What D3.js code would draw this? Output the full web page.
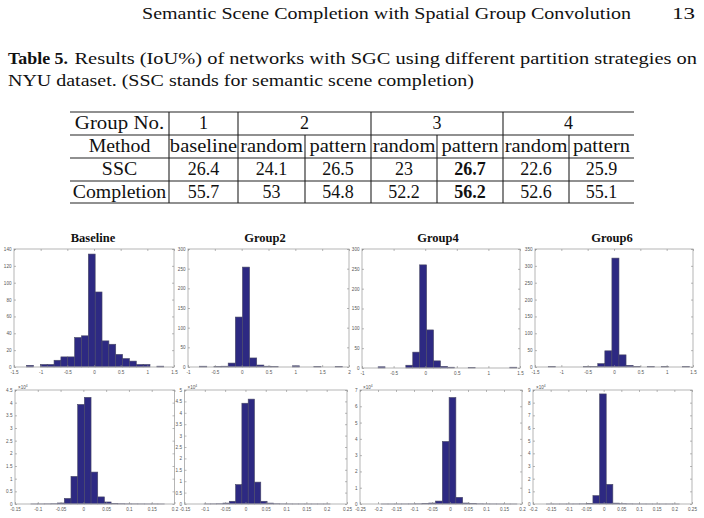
<!DOCTYPE html>
<html lang="en">
<head>
<meta charset="utf-8">
<title>SGC partition results and weight histograms</title>
<script src="https://cdn.jsdelivr.net/npm/d3@7"></script>
<style>
  body { margin: 0; background: #fff; }
  svg { display: block; }
</style>
</head>
<body>
<script>
// ---- page text ----
var headerTitle = "Semantic Scene Completion with Spatial Group Convolution";
var pageNumber = "13";
var captionLabel = "Table 5.";
var captionLine1 = "Results (IoU%) of networks with SGC using different partition strategies on";
var captionLine2 = "NYU dataset. (SSC stands for semantic scene completion)";

// ---- table data ----
var rowLabels = ["Group No.", "Method", "SSC", "Completion"];
var groupNumbers = ["1", "2", "3", "4"];
var groupSpans = [1, 2, 2, 2];
var methods = ["baseline", "random", "pattern", "random", "pattern", "random", "pattern"];
var sscValues = ["26.4", "24.1", "26.5", "23", "26.7", "22.6", "25.9"];
var completionValues = ["55.7", "53", "54.8", "52.2", "56.2", "52.6", "55.1"];
var bestColumn = 4;

// ---- histogram data (20 bins each, bottom row in units of 10^4) ----
var histTitles = ["Baseline", "Group2", "Group4", "Group6", "", "", "", ""];
var histExponent = [null, null, null, null, 4, 4, 4, 4];

var baselineCounts = [2, 0, 3, 3, 8, 12, 12, 35, 37, 134, 89, 31, 27, 15, 10, 7, 3, 3, 0, 1];
var group2Counts = [2, 0, 1, 2, 10, 127, 254, 23, 5, 2, 1, 0, 0, 3, 0, 0, 1, 0, 0, 1];
var group4Counts = [3, 0, 0, 0, 7, 40, 260, 96, 18, 4, 2, 0, 0, 1, 0, 0, 0, 0, 0, 2];
var group6Counts = [1, 0, 0, 0, 0, 1, 1, 10, 48, 323, 36, 5, 2, 0, 1, 0, 1, 0, 0, 1];
var baselineBCounts = [0.002, 0.003, 0.005, 0.01, 0.04, 0.22, 1.09, 3.93, 4.21, 1.26, 0.28, 0.08, 0.02, 0.01, 0.005, 0.004, 0.003, 0.002, 0.002, 0.001];
var group2BCounts = [0.003, 0.005, 0.01, 0.04, 0.12, 0.85, 4.42, 4.6, 0.96, 0.12, 0.04, 0.01, 0.005, 0.003, 0.002, 0.002, 0.001, 0.001, 0.001, 0.001];
var group4BCounts = [0.001, 0.001, 0.002, 0.003, 0.005, 0.01, 0.03, 0.06, 0.18, 3.84, 6.54, 0.41, 0.06, 0.02, 0.01, 0.005, 0.003, 0.002, 0.001, 0.001];
var group6BCounts = [0.001, 0.001, 0.002, 0.003, 0.005, 0.01, 0.05, 0.66, 8.69, 1.55, 0.07, 0.02, 0.01, 0.005, 0.003, 0.002, 0.001, 0.001, 0.001, 0.001];

var histCounts = [baselineCounts, group2Counts, group4Counts, group6Counts,
                  baselineBCounts, group2BCounts, group4BCounts, group6BCounts];
// data range covered by the bins (min, max of the weights)
var histRanges = [[-1.263, 1.307], [-0.783, 1.876], [-0.745, 1.448], [-1.248, 1.437],
                  [-0.1152, 0.1783], [-0.1018, 0.2084], [-0.191, 0.186], [-0.162, 0.214]];

var histXTicks = [
  [-1.5, -1, -0.5, 0, 0.5, 1, 1.5],
  [-1, -0.5, 0, 0.5, 1, 1.5, 2],
  [-1, -0.5, 0, 0.5, 1, 1.5],
  [-1.5, -1, -0.5, 0, 0.5, 1, 1.5],
  [-0.15, -0.1, -0.05, 0, 0.05, 0.1, 0.15, 0.2],
  [-0.15, -0.1, -0.05, 0, 0.05, 0.1, 0.15, 0.2, 0.25],
  [-0.25, -0.2, -0.15, -0.1, -0.05, 0, 0.05, 0.1, 0.15, 0.2],
  [-0.2, -0.15, -0.1, -0.05, 0, 0.05, 0.1, 0.15, 0.2, 0.25]
];
var histYTicks = [
  [0, 20, 40, 60, 80, 100, 120, 140],
  [0, 50, 100, 150, 200, 250, 300],
  [0, 50, 100, 150, 200, 250, 300],
  [0, 50, 100, 150, 200, 250, 300, 350],
  [0, 0.5, 1, 1.5, 2, 2.5, 3, 3.5, 4, 4.5],
  [0, 0.5, 1, 1.5, 2, 2.5, 3, 3.5, 4, 4.5, 5],
  [0, 1, 2, 3, 4, 5, 6, 7],
  [0, 1, 2, 3, 4, 5, 6, 7, 8, 9]
];

// ---- layout ----
var W = 704, H = 518;
var colEdges = [70, 169, 238, 305, 371, 437, 503, 569, 634];
var rowEdges = [112, 135, 158, 181, 203];
var rowBaselines = [129, 152, 175, 197.5];

var panelBoxes = [
  {x0: 14, x1: 174, y0: 249, y1: 367, tx: 93},
  {x0: 188, x1: 349, y0: 249, y1: 367, tx: 265},
  {x0: 362, x1: 520, y0: 249, y1: 368, tx: 438},
  {x0: 535, x1: 693, y0: 249, y1: 367, tx: 612},
  {x0: 15, x1: 174.5, y0: 390, y1: 504},
  {x0: 184.5, x1: 347, y0: 390, y1: 504},
  {x0: 360, x1: 522, y0: 390, y1: 504},
  {x0: 533, x1: 692, y0: 390, y1: 504}
];

var serif = "'Liberation Serif', 'Times New Roman', serif";
var sans = "'Liberation Sans', Arial, sans-serif";
var barFill = "#2d2982";
var barEdge = "#4a4a66";
var boxColor = "#b5b5b5";
var tickFont = 4.6;

var svg = d3.select("body").append("svg")
    .attr("width", W)
    .attr("height", H);

svg.append("rect").attr("width", W).attr("height", H).attr("fill", "#fff");

// stretch text horizontally (Computer Modern is wider than Times)
function stretch(sel, factor) {
  sel.each(function() {
    var len = this.getComputedTextLength();
    d3.select(this).attr("textLength", len * factor).attr("lengthAdjust", "spacingAndGlyphs");
  });
}

function fitText(x, y, str, width, size, weight) {
  return svg.append("text")
    .attr("x", x).attr("y", y)
    .attr("font-family", serif)
    .attr("font-size", size)
    .attr("font-weight", weight || "normal")
    .attr("fill", "#111")
    .attr("textLength", width)
    .attr("lengthAdjust", "spacingAndGlyphs")
    .text(str);
}

// header + caption
fitText(142, 19, headerTitle, 489, 17);
fitText(672, 19, pageNumber, 23, 17);
fitText(8, 64, captionLabel, 60, 17.5, "bold");
fitText(74.5, 64, captionLine1, 622.5, 17.5);
fitText(8, 86, captionLine2, 466, 17.5);

// ---- table ----
var table = svg.append("g");

rowEdges.forEach(function(yy) {
  table.append("line")
    .attr("x1", colEdges[0]).attr("x2", colEdges[colEdges.length - 1])
    .attr("y1", yy).attr("y2", yy)
    .attr("stroke", "#222").attr("stroke-width", 1.1);
});

// group row: separators only between groups
var groupStarts = [1];
groupSpans.forEach(function(s, i) { groupStarts.push(groupStarts[i] + s); });
[1].concat(groupStarts.slice(1, groupStarts.length - 1)).forEach(function(c) {
  table.append("line")
    .attr("x1", colEdges[c]).attr("x2", colEdges[c])
    .attr("y1", rowEdges[0]).attr("y2", rowEdges[1])
    .attr("stroke", "#222").attr("stroke-width", 1.1);
});
// other rows: separators between every column
d3.range(1, colEdges.length - 1).forEach(function(c) {
  table.append("line")
    .attr("x1", colEdges[c]).attr("x2", colEdges[c])
    .attr("y1", rowEdges[1]).attr("y2", rowEdges[4])
    .attr("stroke", "#222").attr("stroke-width", 1.1);
});

function cell(x, row, str, bold, factor) {
  var t = table.append("text")
    .attr("x", x).attr("y", rowBaselines[row])
    .attr("text-anchor", "middle")
    .attr("font-family", serif)
    .attr("font-size", 18)
    .attr("font-weight", bold ? "bold" : "normal")
    .attr("fill", "#111")
    .text(str);
  stretch(t, factor);
}

rowLabels.forEach(function(lbl, r) {
  cell((colEdges[0] + colEdges[1]) / 2, r, lbl, false, r === 0 ? 1.16 : 1.1);
});
groupNumbers.forEach(function(g, i) {
  var a = colEdges[groupStarts[i]], b = colEdges[groupStarts[i] + groupSpans[i]];
  cell((a + b) / 2, 0, g, false, 1);
});
methods.forEach(function(m, i) {
  cell((colEdges[i + 1] + colEdges[i + 2]) / 2, 1, m, false, 1.14);
});
sscValues.forEach(function(v, i) {
  cell((colEdges[i + 1] + colEdges[i + 2]) / 2, 2, v, i === bestColumn, 1);
});
completionValues.forEach(function(v, i) {
  cell((colEdges[i + 1] + colEdges[i + 2]) / 2, 3, v, i === bestColumn, 1);
});

// ---- histograms ----
var fmt = function(d) { return String(+d.toFixed(2)); };

function styleAxis(g) {
  g.select(".domain").remove();
  g.attr("font-family", sans).attr("font-size", tickFont);
  g.selectAll(".tick line").attr("stroke", "#8a8a8a").attr("stroke-width", 0.6);
  g.selectAll(".tick text").attr("fill", "#555");
}

histCounts.forEach(function(counts, i) {
  var L = panelBoxes[i];
  var xt = histXTicks[i], yt = histYTicks[i];
  var x = d3.scaleLinear().domain([xt[0], xt[xt.length - 1]]).range([L.x0, L.x1]);
  var y = d3.scaleLinear().domain([0, yt[yt.length - 1]]).range([L.y1, L.y0]);
  var lo = histRanges[i][0], hi = histRanges[i][1];
  var step = (hi - lo) / counts.length;

  var g = svg.append("g");

  g.selectAll("rect.bar")
    .data(counts)
    .enter().append("rect")
    .attr("class", "bar")
    .attr("x", function(d, k) { return x(lo + k * step); })
    .attr("width", x(lo + step) - x(lo))
    .attr("y", function(d) { return y(d); })
    .attr("height", function(d) { return y(0) - y(d); })
    .attr("fill", barFill)
    .attr("stroke", barEdge)
    .attr("stroke-width", 0.6);

  g.append("rect")
    .attr("x", L.x0).attr("y", L.y0)
    .attr("width", L.x1 - L.x0).attr("height", L.y1 - L.y0)
    .attr("fill", "none")
    .attr("stroke", boxColor)
    .attr("stroke-width", 1);

  g.append("g")
    .attr("transform", "translate(0," + L.y1 + ")")
    .call(d3.axisBottom(x).tickValues(xt).tickFormat(fmt).tickSize(-2).tickPadding(3.5))
    .call(styleAxis);
  g.append("g")
    .attr("transform", "translate(0," + L.y0 + ")")
    .call(d3.axisTop(x).tickValues(xt).tickFormat("").tickSize(-2))
    .call(styleAxis);
  g.append("g")
    .attr("transform", "translate(" + L.x0 + ",0)")
    .call(d3.axisLeft(y).tickValues(yt).tickFormat(fmt).tickSize(-2).tickPadding(2.5))
    .call(styleAxis);
  g.append("g")
    .attr("transform", "translate(" + L.x1 + ",0)")
    .call(d3.axisRight(y).tickValues(yt).tickFormat("").tickSize(-2))
    .call(styleAxis);

  if (histTitles[i]) {
    g.append("text")
      .attr("x", L.tx).attr("y", 241.5)
      .attr("text-anchor", "middle")
      .attr("font-family", serif)
      .attr("font-weight", "bold")
      .attr("font-size", 12.5)
      .attr("fill", "#111")
      .text(histTitles[i]);
  }

  if (histExponent[i] !== null) {
    var e = g.append("text")
      .attr("x", L.x0 + 3).attr("y", L.y0 - 1.5)
      .attr("font-family", sans)
      .attr("font-size", tickFont)
      .attr("fill", "#555");
    e.append("tspan").text("\u00d710");
    e.append("tspan").attr("dy", -2).attr("font-size", 3.3).text(histExponent[i]);
  }
});
</script>
</body>
</html>
